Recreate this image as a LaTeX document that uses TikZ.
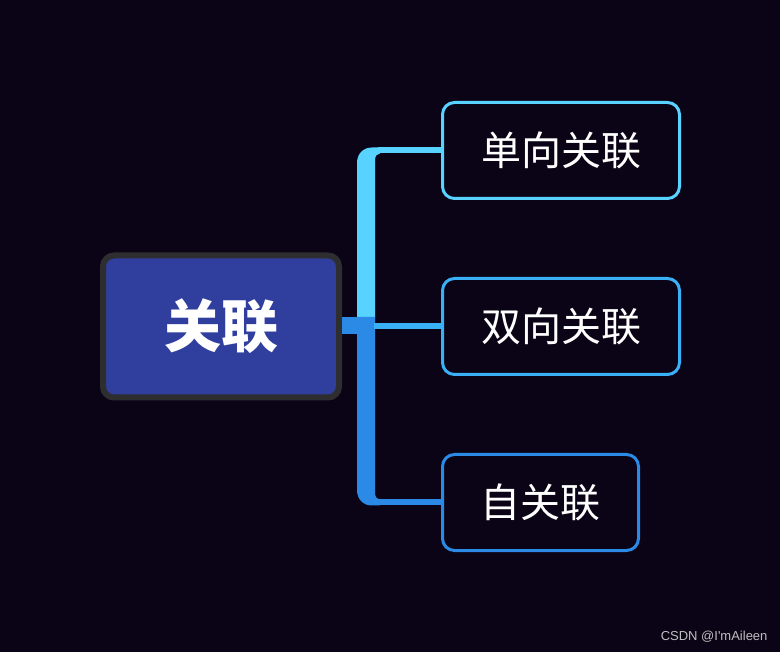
\documentclass[tikz,border=0pt]{standalone}
\usepackage{fontspec}
\newfontfamily\cjk{Noto Sans CJK SC}
\newfontfamily\wmfont{Liberation Sans}
\usetikzlibrary{positioning}

\definecolor{bg}{RGB}{10,4,22}
\definecolor{rootfill}{RGB}{48,62,158}
\definecolor{rootline}{RGB}{46,45,48}
\definecolor{lightc}{RGB}{88,210,255}
\definecolor{midc}{RGB}{58,176,247}
\definecolor{darkc}{RGB}{42,138,230}

\begin{document}
\begin{tikzpicture}[
  x=1pt,y=-1pt,
  node distance=77pt and 99pt,
  root/.style={draw=rootline,fill=rootfill,line width=6pt,rounded corners=11pt,
    minimum width=236pt,minimum height=142pt,text=white,font=\cjk\bfseries\fontsize{57}{62}\selectfont},
  leaf/.style={draw,fill=bg,line width=3pt,rounded corners=12pt,
    minimum width=237pt,minimum height=96pt,text=white,font=\cjk\fontsize{40}{44}\selectfont}
]
  \fill[bg] (0,0) rectangle (780,652);

  \node[root] (rel) at (221,326.5) {关联};
  \node[leaf,draw=midc,right=of rel] (bi) {双向关联};
  \node[leaf,draw=lightc,above=of bi] (uni) {单向关联};
  \node[leaf,draw=darkc,minimum width=196pt,below=77pt of bi.south west,anchor=north west] (self) {自关联};

  % trunk
  \fill[lightc] (357,318) -- (357,163) .. controls (357,154) and (363,147.5) .. (372,147.5)
    -- (380,147.5) -- (380,153.5) .. controls (377,153.5) and (375,156) .. (375,160) -- (375,318) -- cycle;
  \fill[darkc] (357,317) -- (357,490) .. controls (357,499) and (363,505.5) .. (372,505.5)
    -- (380,505.5) -- (380,499.5) .. controls (377,499.5) and (375,497) .. (375,493) -- (375,317) -- cycle;
  \fill[darkc] (rel.east |- 0,317) rectangle (375,334);

  % branches
  \draw[lightc,line width=6pt] (uni.west -| 378,0) -- (uni.west);
  \draw[midc,line width=6pt] (bi.west -| 374,0) -- (bi.west);
  \draw[darkc,line width=6pt] (self.west -| 378,0) -- (self.west);

  \node[text=black!25,font=\wmfont\fontsize{13}{15}\selectfont,anchor=east] (wm) at (771,637) {CSDN @I'mAileen};
\end{tikzpicture}
\end{document}
